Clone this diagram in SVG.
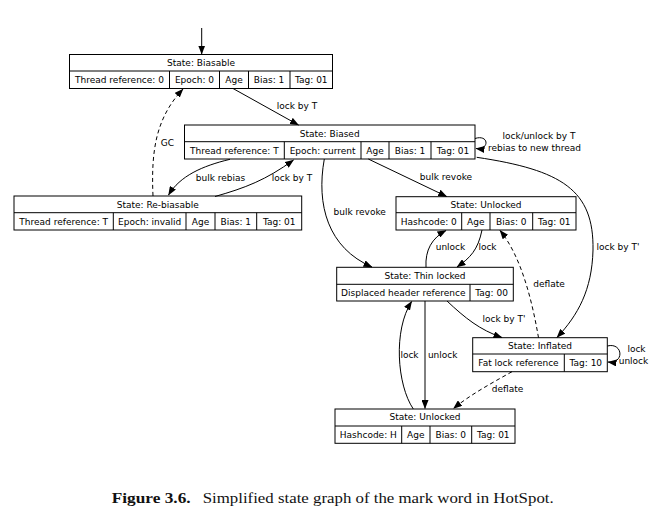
<svg xmlns="http://www.w3.org/2000/svg" width="663" height="531" viewBox="0 0 663 531">
<style>
.box{fill:#fff;stroke:#000;stroke-width:1}
.ln{fill:none;stroke:#000;stroke-width:1}
.e{fill:none;stroke:#000;stroke-width:1}
.d{stroke-dasharray:4,3}
text{font-family:"DejaVu Sans",Verdana,sans-serif;font-size:9px;fill:#000;text-anchor:middle}
.cap{font-family:"Liberation Serif","Times New Roman",serif;font-size:14px;text-anchor:start;fill:#111}
</style>
<defs>
<marker id="ah" markerWidth="9" markerHeight="7" refX="8.5" refY="3.5" orient="auto" markerUnits="userSpaceOnUse">
<path d="M0,0 L9,3.5 L0,7 Z" fill="#000"/>
</marker>
</defs>
<rect width="663" height="531" fill="#fff"/>

<g id="biasable">
<rect class="box" x="69.5" y="54.5" width="263" height="34"/>
<path class="ln" d="M69.5,71 H332.5 M169.5,71 V88.5 M219.5,71 V88.5 M248.5,71 V88.5 M290,71 V88.5"/>
<text x="201" y="65.8">State: Biasable</text>
<text x="119.5" y="83">Thread reference: 0</text>
<text x="194.5" y="83">Epoch: 0</text>
<text x="234" y="83">Age</text>
<text x="269" y="83">Bias: 1</text>
<text x="311.3" y="83">Tag: 01</text>
</g>

<g id="biased">
<rect class="box" x="184.5" y="125" width="290.5" height="34"/>
<path class="ln" d="M184.5,141.7 H475 M284.3,141.7 V159 M361,141.7 V159 M389,141.7 V159 M431,141.7 V159"/>
<text x="329.7" y="136.5">State: Biased</text>
<text x="234.4" y="153.5">Thread reference: T</text>
<text x="322.6" y="153.5">Epoch: current</text>
<text x="375" y="153.5">Age</text>
<text x="410" y="153.5">Bias: 1</text>
<text x="453" y="153.5">Tag: 01</text>
</g>

<g id="rebiasable">
<rect class="box" x="14" y="196" width="287.7" height="34"/>
<path class="ln" d="M14,212.7 H301.7 M113.3,212.7 V230 M186,212.7 V230 M215,212.7 V230 M256.7,212.7 V230"/>
<text x="157.8" y="207.5">State: Re-biasable</text>
<text x="63.7" y="224.5">Thread reference: T</text>
<text x="149.7" y="224.5">Epoch: invalid</text>
<text x="200.5" y="224.5">Age</text>
<text x="235.8" y="224.5">Bias: 1</text>
<text x="279.2" y="224.5">Tag: 01</text>
</g>

<g id="unlocked0">
<rect class="box" x="396" y="196.7" width="180" height="33.3"/>
<path class="ln" d="M396,212.7 H576 M461.7,212.7 V230 M490,212.7 V230 M532.7,212.7 V230"/>
<text x="486" y="207.8">State: Unlocked</text>
<text x="428.8" y="224.5">Hashcode: 0</text>
<text x="475.8" y="224.5">Age</text>
<text x="511.3" y="224.5">Bias: 0</text>
<text x="554.3" y="224.5">Tag: 01</text>
</g>

<g id="thinlocked">
<rect class="box" x="336.7" y="267.3" width="176.6" height="33.7"/>
<path class="ln" d="M336.7,284.3 H513.3 M470,284.3 V301"/>
<text x="425" y="278.8">State: Thin locked</text>
<text x="403.3" y="295.8">Displaced header reference</text>
<text x="491.6" y="295.8">Tag: 00</text>
</g>

<g id="inflated">
<rect class="box" x="472.7" y="337.7" width="134.6" height="34"/>
<path class="ln" d="M472.7,354 H607.3 M564.3,354 V371.7"/>
<text x="540" y="349">State: Inflated</text>
<text x="518.5" y="366">Fat lock reference</text>
<text x="585.8" y="366">Tag: 10</text>
</g>

<g id="unlockedH">
<rect class="box" x="335" y="409" width="180" height="34.3"/>
<path class="ln" d="M335,426 H515 M401.7,426 V443.3 M430,426 V443.3 M471.7,426 V443.3"/>
<text x="425" y="420.3">State: Unlocked</text>
<text x="368.3" y="437.8">Hashcode: H</text>
<text x="415.8" y="437.8">Age</text>
<text x="450.8" y="437.8">Bias: 0</text>
<text x="493.3" y="437.8">Tag: 01</text>
</g>

<g id="connectors">
<path class="e" marker-end="url(#ah)" d="M201.7,28 V54"/>
<path class="e" marker-end="url(#ah)" d="M233,88.5 L298.5,125"/>
<path class="e d" marker-end="url(#ah)" d="M153,196 C151,150 156,118 183,89"/>
<path class="e" marker-end="url(#ah)" d="M230,159.3 C202,166 180,176 168.5,195"/>
<path class="e" marker-end="url(#ah)" d="M215,196.5 C245,188 266,180 293.5,160"/>
<path class="e" marker-end="url(#ah)" d="M475,138.5 C489,134 490,150 476,148.5"/>
<path class="e" marker-end="url(#ah)" d="M368.3,159 L446.7,196.5"/>
<path class="e" marker-end="url(#ah)" d="M324.3,159 C316,205 328,248 372,267"/>
<path class="e" marker-end="url(#ah)" d="M476.7,157.3 C562,170 594,190 593,250 C592,290 578,315 557,337.5"/>
<path class="e" marker-end="url(#ah)" d="M426,267.3 C425,250 432,238 446,230.5"/>
<path class="e" marker-end="url(#ah)" d="M482,230 C478,250 470,258 457,267"/>
<path class="e d" marker-end="url(#ah)" d="M538.5,337.7 C532,300 521,256 500,230.5"/>
<path class="e" marker-end="url(#ah)" d="M447,301 C465,318 480,330 502,337.5"/>
<path class="e" marker-end="url(#ah)" d="M607.3,346 C623,342 625,364 608,362"/>
<path class="e d" marker-end="url(#ah)" d="M512,371.7 C490,384 470,395 453.5,408.5"/>
<path class="e" marker-end="url(#ah)" d="M413.3,409 C397,385 393,330 411.7,301.5"/>
<path class="e" marker-end="url(#ah)" d="M425,301 V408.5"/>

<text x="297" y="109.2">lock by T</text>
<text x="167.5" y="145.9">GC</text>
<text x="220.5" y="180.5">bulk rebias</text>
<text x="292" y="180.5">lock by T</text>
<text x="539" y="139.2">lock/unlock by T</text>
<text x="534.5" y="150.9">rebias to new thread</text>
<text x="446" y="179.9">bulk revoke</text>
<text x="359.7" y="215.2">bulk revoke</text>
<text x="618" y="250.2">lock by T'</text>
<text x="450.5" y="250.2">unlock</text>
<text x="487.5" y="250.2">lock</text>
<text x="549" y="286.5">deflate</text>
<text x="504" y="322.2">lock by T'</text>
<text x="636.5" y="352.2">lock</text>
<text x="633.5" y="363.9">unlock</text>
<text x="507.5" y="392.2">deflate</text>
<text x="409.5" y="358.2">lock</text>
<text x="442.7" y="358.2">unlock</text>
</g>

<text class="cap" x="111.7" y="503" font-weight="bold" textLength="79" lengthAdjust="spacingAndGlyphs">Figure 3.6.</text>
<text class="cap" x="202.7" y="503" textLength="351" lengthAdjust="spacingAndGlyphs">Simplified state graph of the mark word in HotSpot.</text>
</svg>
